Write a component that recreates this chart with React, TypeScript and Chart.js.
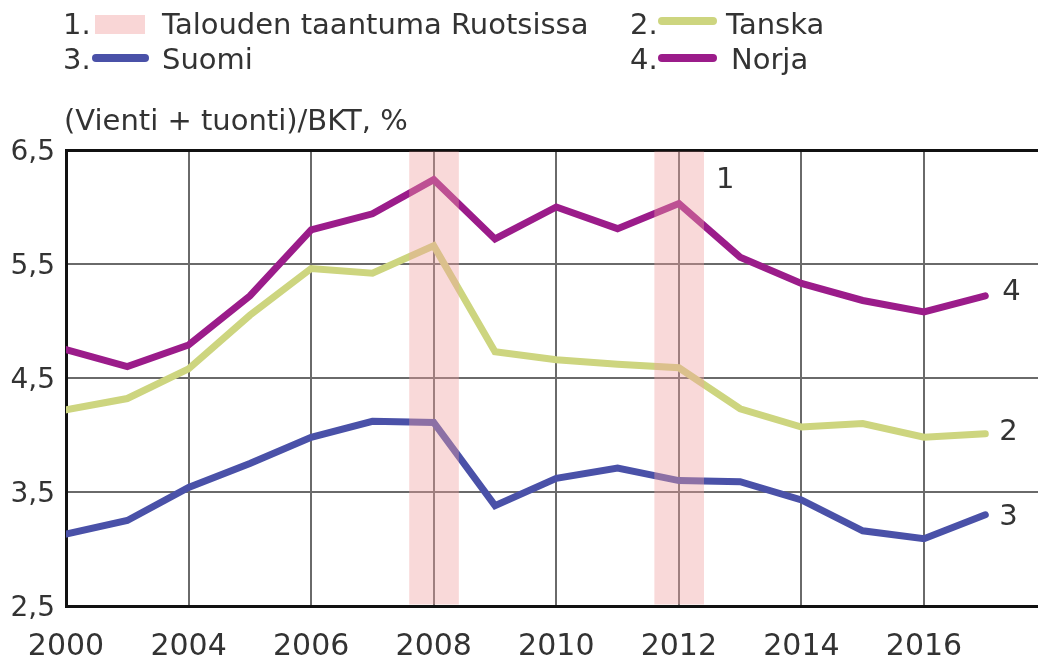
import React, { useEffect, useRef } from "react";
import { Chart, registerables } from "chart.js";

Chart.register(...registerables);

// ---- Data ----
const years = [2002, 2003, 2004, 2005, 2006, 2007, 2008, 2009, 2010, 2011, 2012, 2013, 2014, 2015, 2016, 2017];
const xTickValues = [2002, 2004, 2006, 2008, 2010, 2012, 2014, 2016];
const xTickLabels = ["2000", "2004", "2006", "2008", "2010", "2012", "2014", "2016"];
const yTickValues = [2.5, 3.5, 4.5, 5.5, 6.5];
const yTickLabels = ["2,5", "3,5", "4,5", "5,5", "6,5"];

const norja = [4.75, 4.6, 4.79, 5.22, 5.8, 5.94, 6.24, 5.72, 6.0, 5.81, 6.03, 5.56, 5.33, 5.18, 5.08, 5.22];
const tanska = [4.22, 4.32, 4.58, 5.05, 5.46, 5.42, 5.66, 4.73, 4.66, 4.62, 4.59, 4.23, 4.07, 4.1, 3.98, 4.01];
const suomi = [3.13, 3.25, 3.54, 3.75, 3.98, 4.12, 4.11, 3.38, 3.62, 3.71, 3.6, 3.59, 3.43, 3.16, 3.09, 3.3];

const recessionStarts = [2007.6, 2011.6];
const recessionEnds = [2008.41, 2012.41];

const legendNumbers = ["1.", "2.", "3.", "4."];
const legendLabels = ["Talouden taantuma Ruotsissa", "Tanska", "Suomi", "Norja"];
const endLabels = ["4", "2", "3"];
const yAxisTitle = "(Vienti + tuonti)/BKT, %";

const COLORS = {
  norja: "#9b1c8a",
  tanska: "#cdd57f",
  suomi: "#4a51a8",
  band: "rgba(240,160,160,0.4)",
  bandSwatch: "#f9d6d6",
  text: "#333333",
  grid: "#6a6a6a",
  axis: "#111111",
};
const FONT = '"DejaVu Sans", sans-serif';

const overlayPlugin = {
  id: "overlay",
  afterDatasetsDraw(chart: any) {
    const { ctx, chartArea, scales } = chart;
    const x = scales.x;
    ctx.save();
    ctx.fillStyle = COLORS.band;
    recessionStarts.forEach((s, i) => {
      const x1 = x.getPixelForValue(s);
      const x2 = x.getPixelForValue(recessionEnds[i]);
      ctx.fillRect(x1, chartArea.top + 1.5, x2 - x1, chartArea.bottom - chartArea.top - 3);
    });
    ctx.restore();
  },
  afterDraw(chart: any) {
    const { ctx, scales, chartArea } = chart;
    const x = scales.x;
    const y = scales.y;
    ctx.save();
    ctx.fillStyle = COLORS.text;
    ctx.font = `29px ${FONT}`;
    ctx.textBaseline = "alphabetic";
    ctx.textAlign = "left";

    // Legend row 1
    ctx.fillText(legendNumbers[0], 63, 34);
    ctx.fillStyle = COLORS.bandSwatch;
    ctx.fillRect(95, 15, 50, 19);
    ctx.fillStyle = COLORS.text;
    ctx.fillText(legendLabels[0], 162, 34);

    ctx.fillText(legendNumbers[1], 630, 34);
    ctx.lineCap = "round";
    ctx.lineWidth = 8;
    ctx.strokeStyle = COLORS.tanska;
    ctx.beginPath();
    ctx.moveTo(662, 21);
    ctx.lineTo(713, 21);
    ctx.stroke();
    ctx.fillText(legendLabels[1], 726, 34);

    // Legend row 2
    ctx.fillText(legendNumbers[2], 63, 69);
    ctx.strokeStyle = COLORS.suomi;
    ctx.beginPath();
    ctx.moveTo(96, 58);
    ctx.lineTo(145, 58);
    ctx.stroke();
    ctx.fillText(legendLabels[2], 162, 69);

    ctx.fillText(legendNumbers[3], 630, 69);
    ctx.strokeStyle = COLORS.norja;
    ctx.beginPath();
    ctx.moveTo(662, 58);
    ctx.lineTo(713, 58);
    ctx.stroke();
    ctx.fillText(legendLabels[3], 731, 69);

    // Axis title
    ctx.fillText(yAxisTitle, 64, 130);

    // Label "1" near the second recession band
    ctx.fillText("1", x.getPixelForValue(recessionEnds[1]) + 12, chartArea.top + 38);

    // End labels
    ctx.textBaseline = "middle";
    const last = years.length - 1;
    const lx = x.getPixelForValue(years[last]);
    ctx.fillText(endLabels[0], lx + 17, y.getPixelForValue(norja[last]) - 3);
    ctx.fillText(endLabels[1], lx + 14, y.getPixelForValue(tanska[last]) - 1);
    ctx.fillText(endLabels[2], lx + 14, y.getPixelForValue(suomi[last]) + 3);
    ctx.restore();
  },
};

export default function App() {
  const canvasRef = useRef<HTMLCanvasElement | null>(null);

  useEffect(() => {
    const canvas = canvasRef.current;
    if (!canvas) return;
    const mk = (vals: number[]) => years.map((yr, i) => ({ x: yr, y: vals[i] }));
    const line = (label: string, vals: number[], color: string) => ({
      label,
      data: mk(vals),
      borderColor: color,
      backgroundColor: color,
      borderWidth: 7,
      pointRadius: 0,
      tension: 0,
      borderJoinStyle: "miter" as const,
      borderCapStyle: "round" as const,
      fill: false,
    });
    const chart = new Chart(canvas, {
      type: "line",
      data: {
        datasets: [
          line(legendLabels[2], suomi, COLORS.suomi),
          line(legendLabels[1], tanska, COLORS.tanska),
          line(legendLabels[3], norja, COLORS.norja),
        ],
      },
      options: {
        responsive: false,
        animation: false,
        devicePixelRatio: 1,
        layout: { padding: { top: 150, left: 0, right: 0, bottom: 0 } },
        plugins: {
          legend: { display: false },
          tooltip: { enabled: false },
          title: { display: false },
        },
        scales: {
          x: {
            type: "linear",
            min: 2002,
            max: 2017.86,
            afterBuildTicks: (s: any) => {
              s.ticks = xTickValues.map((v) => ({ value: v }));
            },
            afterFit: (s: any) => {
              s.height = 55;
            },
            ticks: {
              autoSkip: false,
              maxRotation: 0,
              padding: 23,
              color: COLORS.text,
              font: { family: FONT, size: 30 },
              callback: (_v: any, i: number) => xTickLabels[i],
            },
            grid: {
              drawTicks: false,
              lineWidth: 2,
              color: (c: any) => (c.tick && c.tick.value === xTickValues[0] ? "rgba(0,0,0,0)" : COLORS.grid),
            },
            border: { color: COLORS.axis, width: 3 },
          },
          y: {
            type: "linear",
            min: 2.5,
            max: 6.5,
            afterBuildTicks: (s: any) => {
              s.ticks = yTickValues.map((v) => ({ value: v }));
            },
            afterFit: (s: any) => {
              s.width = 66;
            },
            ticks: {
              padding: 11,
              labelOffset: 3,
              color: COLORS.text,
              font: { family: FONT, size: 28 },
              callback: (_v: any, i: number) => yTickLabels[i],
            },
            grid: {
              drawTicks: false,
              lineWidth: (c: any) => (c.tick && c.tick.value === 6.5 ? 3 : 2),
              color: (c: any) => (c.tick && c.tick.value === 6.5 ? COLORS.axis : COLORS.grid),
            },
            border: { color: COLORS.axis, width: 3 },
          },
        },
      },
      plugins: [overlayPlugin],
    });
    return () => chart.destroy();
  }, []);

  return (
    <div style={{ position: "fixed", left: 0, top: 0, width: 1038, height: 661, background: "#fff" }}>
      <canvas ref={canvasRef} width={1038} height={661} style={{ display: "block" }} />
    </div>
  );
}
